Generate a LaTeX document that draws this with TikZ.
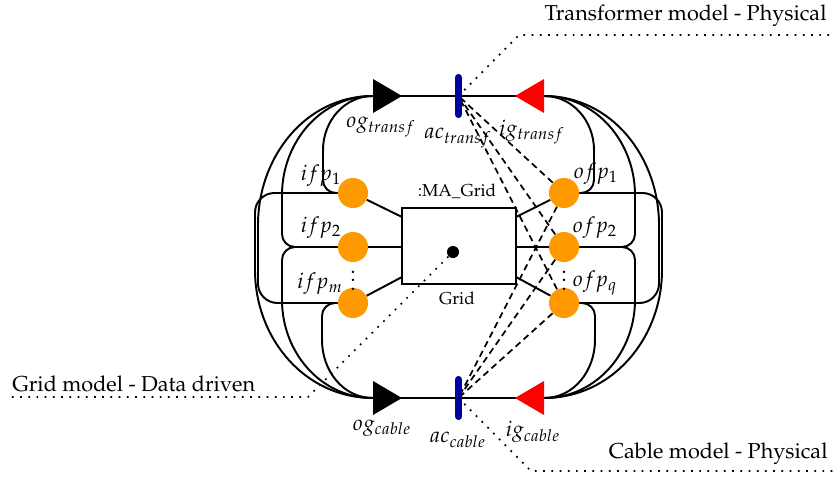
\documentclass[tikz,border=0pt]{standalone}
\usepackage[T1]{fontenc}
\usepackage{mathpazo}
\definecolor{portorange}{RGB}{255,153,0}
\definecolor{barblue}{RGB}{0,0,160}
\begin{document}
\begin{tikzpicture}[x=0.4625pt, y=0.4625pt,
        wire/.style={line width=0.9pt},
        link/.style={thick, dash pattern=on 3pt off 2pt},
        note/.style={thick, dash pattern=on 0.8pt off 3pt},
        port/.style={circle, fill=portorange, minimum size=13.9pt, inner sep=0pt},
        portname/.style={inner sep=1pt},
        bar/.style={fill=barblue, rounded corners=1.6pt, minimum width=3.2pt, minimum height=20.4pt, inner sep=0pt}]
        \useasboundingbox (0,0) rectangle (834,479);

        % ends of the transformer line and the cable line
        \coordinate (ogT) at (373,383);
        \coordinate (igT) at (544,383);
        \coordinate (acT) at (458.5,383);
        \coordinate (ogC) at (373,81);
        \coordinate (igC) at (544,81);
        \coordinate (acC) at (458.5,81);

        % grid block
        \node[draw, thick, minimum width=52.7pt, minimum height=35.2pt, inner sep=0pt] (grid) at (459,233) {};
        \node[font=\footnotesize] (gridname) at (457,288) {:MA\_Grid};
        \node[font=\footnotesize] (gridtype) at (457,181) {Grid};
        \node[circle, fill, minimum size=5.6pt, inner sep=0pt] (gdot) at (453,227) {};
        \coordinate (gin1) at (402,262);
        \coordinate (gin2) at (402,232);
        \coordinate (ginm) at (402,202);
        \coordinate (gout1) at (516,262);
        \coordinate (gout2) at (516,232);
        \coordinate (goutq) at (516,202);

        % ports of the grid
        \node[port] (ifp1) at (353,286) {};
        \node[port] (ifp2) at (353,232) {};
        \node[port] (ifpm) at (353,176) {};
        \node[port] (ofp1) at (564,286) {};
        \node[port] (ofp2) at (564,232) {};
        \node[port] (ofpq) at (564,176) {};
        \node[inner sep=0pt] (ldots) at (353,205) {$\vdots$};
        \node[inner sep=0pt] (rdots) at (564,205) {$\vdots$};

        % dashed links to the two lines
        \draw[link] (ofp1) -- (acT);
        \draw[link] (ofp2) -- (acT);
        \draw[link] (ofpq) -- (acT);
        \draw[link] (ofp1) -- (acC);
        \draw[link] (ofp2) -- (acC);
        \draw[link] (ofpq) -- (acC);

        % the two lines
        \draw[wire] (ogT) -- (igT);
        \draw[wire] (ogC) -- (igC);

        % ports to the block
        \draw[wire] (ifp1) -- (gin1);
        \draw[wire] (ifp2) -- (gin2);
        \draw[wire] (ifpm) -- (ginm);
        \draw[wire] (ofp1) -- (gout1);
        \draw[wire] (ofp2) -- (gout2);
        \draw[wire] (ofpq) -- (goutq);

        % left side: outputs to inputs
        \draw[wire] (ogT) to[out=180,in=90] (323,329) [rounded corners=6pt] |- (ifp1);
        \draw[wire] (ogT) to[out=180,in=90] (282,284) [rounded corners=6pt] |- (ifp2);
        \draw[wire] (ogT) to[out=180,in=90] (258,254) [rounded corners=9pt] |- (ifpm);
        \draw[wire] (ogC) to[out=180,in=-90] (255,209) [rounded corners=9pt] |- (ifp1);
        \draw[wire] (ogC) to[out=180,in=-90] (282,179) [rounded corners=6pt] |- (ifp2);
        \draw[wire] (ogC) to[out=180,in=-90] (322,139) [rounded corners=6pt] |- (ifpm);

        % right side: outputs to inputs
        \draw[wire] (igT) to[out=0,in=90] (594,329) [rounded corners=6pt] |- (ofp1);
        \draw[wire] (igT) to[out=0,in=90] (635,284) [rounded corners=6pt] |- (ofp2);
        \draw[wire] (igT) to[out=0,in=90] (659,254) [rounded corners=9pt] |- (ofpq);
        \draw[wire] (igC) to[out=0,in=-90] (662,209) [rounded corners=9pt] |- (ofp1);
        \draw[wire] (igC) to[out=0,in=-90] (635,179) [rounded corners=6pt] |- (ofp2);
        \draw[wire] (igC) to[out=0,in=-90] (595,139) [rounded corners=6pt] |- (ofpq);

        % triangles and bars
        \fill (ogT) -- ++(0,17) -- ++(29,-17) -- ++(-29,-17) -- cycle;
        \fill (ogC) -- ++(0,17) -- ++(29,-17) -- ++(-29,-17) -- cycle;
        \fill[red] (igT) -- ++(0,17) -- ++(-29,-17) -- ++(29,-17) -- cycle;
        \fill[red] (igC) -- ++(0,17) -- ++(-29,-17) -- ++(29,-17) -- cycle;
        \node[bar] (acTbar) at (acT) {};
        \node[bar] (acCbar) at (acC) {};

        % port names
        \node[portname] (logT) at (381,352) {$og_{transf}$};
        \node[portname] (lacT) at (458,341) {$ac_{transf}$};
        \node[portname] (ligT) at (532,347) {$ig_{transf}$};
        \node[portname] (lifp1) at (321,303) {$ifp_1$};
        \node[portname] (lifp2) at (321,251) {$ifp_2$};
        \node[portname] (lifpm) at (320,195) {$ifp_m$};
        \node[portname] (lofp1) at (596,305) {$ofp_1$};
        \node[portname] (lofp2) at (595,251) {$ofp_2$};
        \node[portname] (lofpq) at (595,196) {$ofp_q$};
        \node[portname] (logC) at (382,51) {$og_{cable}$};
        \node[portname] (lacC) at (458,39) {$ac_{cable}$};
        \node[portname] (ligC) at (533,47) {$ig_{cable}$};

        % notes
        \coordinate (trafobend) at (519,444);
        \coordinate (trafoend) at (834,444);
        \coordinate (gridbend) at (308,82);
        \coordinate (gridend) at (8,82);
        \coordinate (cablebend) at (531,8);
        \coordinate (cableend) at (834,8);
        \draw[note] (acT) -- (trafobend) -- (trafoend);
        \draw[note] (gdot) -- (gridbend) -- (gridend);
        \draw[note] (acC) -- (cablebend) -- (cableend);
        \node[anchor=base east, inner sep=0pt] (trafonote) at (827,458) {Transformer model - Physical};
        \node[anchor=base west, inner sep=0pt] (gridnote) at (12,88) {Grid model - Data driven};
        \node[anchor=base east, inner sep=0pt] (cablenote) at (828,21) {Cable model - Physical};
\end{tikzpicture}
\end{document}
